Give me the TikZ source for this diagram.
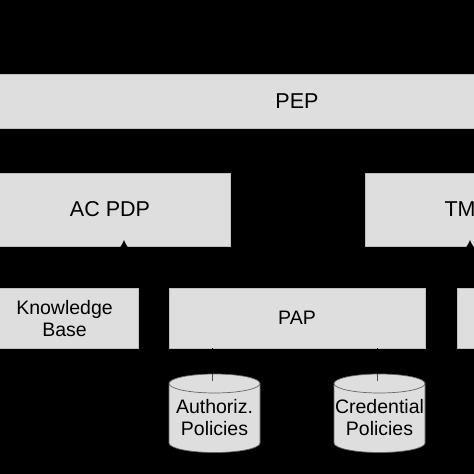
\documentclass[tikz,border=0pt]{standalone}
\usepackage{fontspec}
\setmainfont{Liberation Sans}
\usetikzlibrary{arrows.meta}
\begin{document}
\begin{tikzpicture}[x=1pt,y=-1pt,
  box/.style={draw=black!25,fill=black!13,line width=0.6pt,inner sep=0pt},
  bigtxt/.style={font=\fontsize{21.5}{24}\selectfont},
  smalltxt/.style={font=\fontsize{19.5}{22}\selectfont,align=center},
  conn/.style={draw=black,line width=1pt},
  arr/.style={conn,-{Latex[length=8pt,width=9pt]}},
  tick/.style={draw=black!70,line width=1pt},
  cylfill/.style={fill=black!13,draw=black!60,line width=0.7pt}]
\useasboundingbox (0,0) rectangle (474,474);
\fill[black] (0,0) rectangle (474,474);
\clip (0,0) rectangle (474,474);
% boxes
\path[box] (-10,74.5) rectangle (490,128);
\node[bigtxt] (pep) at (297,101.5) {PEP};
\path[box] (-10,173) rectangle (230,246);
\node[bigtxt] (acpdp) at (110,209) {AC PDP};
\path[box] (365,173) rectangle (520,246);
\node[bigtxt,anchor=west] (tm) at (441,209) {TM};
\path[box] (-9,288) rectangle (138,348);
\node[smalltxt] (kb) at (64.5,318.5) {Knowledge\\Base};
\path[box] (169,288) rectangle (425,348);
\node[smalltxt] (pap) at (297,318) {PAP};
\path[box] (457,288) rectangle (520,348);
\coordinate (rb) at (470,288);
% cylinders
\path[cylfill] (169,383.5) -- (169,443) arc[start angle=180,end angle=360,x radius=45.5pt,y radius=9.5pt]
  -- (260,383.5) arc[start angle=0,end angle=180,x radius=45.5pt,y radius=9.5pt] -- cycle;
\draw[black!60,line width=0.7pt] (169,383.5) arc[start angle=180,end angle=360,x radius=45.5pt,y radius=9.5pt];
\node[smalltxt] (auth) at (214.5,417.5) {Authoriz.\\Policies};
\path[cylfill] (334,383.5) -- (334,443) arc[start angle=180,end angle=360,x radius=45.5pt,y radius=9.5pt]
  -- (425,383.5) arc[start angle=0,end angle=180,x radius=45.5pt,y radius=9.5pt] -- cycle;
\draw[black!60,line width=0.7pt] (334,383.5) arc[start angle=180,end angle=360,x radius=45.5pt,y radius=9.5pt];
\node[smalltxt] (cred) at (379.5,417.5) {Credential\\Policies};
% connectors
\coordinate (acb) at (124,240);
\coordinate (tmb) at (470,240);
\coordinate (authedge) at (212,374);
\coordinate (crededge) at (377,374);
\coordinate (authtop) at (212,381);
\coordinate (credtop) at (377,381);
\draw[arr] (124,288) -- (acb);
\draw[arr] (rb) -- (tmb);
\draw[conn] (212,348) -- (authedge);
\draw[tick] (authedge) -- (authtop);
\draw[conn] (377,348) -- (crededge);
\draw[tick] (crededge) -- (credtop);
\end{tikzpicture}
\end{document}
